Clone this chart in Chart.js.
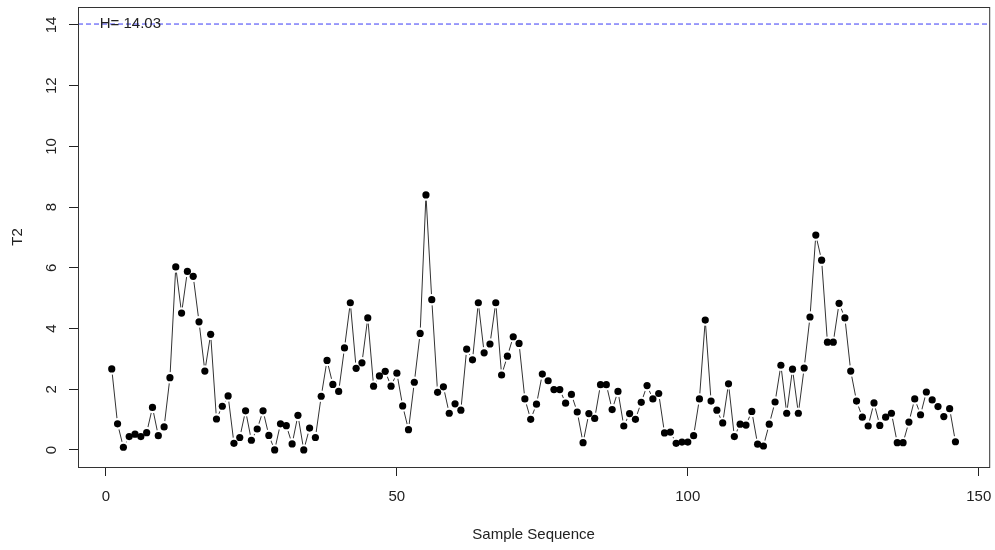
<!DOCTYPE html>
<html>
<head>
<meta charset="utf-8">
<script src="https://cdn.jsdelivr.net/npm/chart.js@4/dist/chart.umd.min.js"></script>
<style>
  body { margin: 0; background: #fff; }
  canvas { display: block; }
</style>
</head>
<body>
<canvas id="t2chart" width="995" height="550"></canvas>
<script>
// T2 statistic per sample
const t2 = [
  2.67, 0.86, 0.09, 0.44, 0.52, 0.44, 0.57, 1.40, 0.47, 0.76,
  2.38, 6.03, 4.51, 5.88, 5.72, 4.22, 2.60, 3.81, 1.02, 1.44,
  1.78, 0.22, 0.41, 1.29, 0.32, 0.69, 1.29, 0.48, 0.00, 0.86,
  0.80, 0.20, 1.14, 0.00, 0.72, 0.41, 1.77, 2.95, 2.16, 1.93,
  3.36, 4.85, 2.69, 2.87, 4.35, 2.10, 2.44, 2.59, 2.10, 2.53,
  1.45, 0.67, 2.23, 3.84, 8.40, 4.95, 1.90, 2.08, 1.21, 1.52,
  1.31, 3.32, 2.97, 4.85, 3.20, 3.49, 4.85, 2.47, 3.09, 3.73,
  3.51, 1.68, 1.01, 1.51, 2.50, 2.28, 1.99, 1.99, 1.54, 1.83,
  1.25, 0.24, 1.20, 1.04, 2.15, 2.15, 1.33, 1.93, 0.79, 1.20,
  1.01, 1.57, 2.12, 1.68, 1.86, 0.56, 0.59, 0.22, 0.26, 0.26,
  0.47, 1.68, 4.28, 1.61, 1.31, 0.89, 2.18, 0.44, 0.85, 0.82,
  1.27, 0.19, 0.13, 0.85, 1.58, 2.79, 1.21, 2.66, 1.21, 2.70,
  4.38, 7.08, 6.25, 3.55, 3.55, 4.83, 4.35, 2.60, 1.61, 1.08,
  0.79, 1.55, 0.81, 1.08, 1.21, 0.24, 0.24, 0.92, 1.68, 1.16,
  1.91, 1.65, 1.43, 1.10, 1.36, 0.27
];
const samples = t2.map((_, i) => i + 1);
const H = 14.03;
const xTicks = [0, 50, 100, 150];
const yTicks = [0, 2, 4, 6, 8, 10, 12, 14];

const xMin = -4.8, xMax = 151.8;
const yMin = -0.561, yMax = 14.591;

const pts = samples.map((s, i) => ({ x: s, y: t2[i] }));
const hLine = [{ x: xMin, y: H }, { x: xMax, y: H }];

const FONT = "'Liberation Sans', Arial, sans-serif";

// box, rotated y labels, H text
const extras = {
  id: 'extras',
  afterDraw(chart) {
    const ctx = chart.ctx;
    const a = chart.chartArea;
    const xs = chart.scales.x, ys = chart.scales.y;
    ctx.save();
    ctx.strokeStyle = '#333';
    ctx.lineWidth = 1;
    ctx.strokeRect(a.left + 0.5, a.top + 0.5, a.right - a.left, a.bottom - a.top);

    ctx.fillStyle = '#222';
    ctx.font = '15px ' + FONT;
    ctx.textAlign = 'center';
    ctx.textBaseline = 'middle';
    yTicks.forEach(v => {
      ctx.save();
      ctx.translate(52, ys.getPixelForValue(v));
      ctx.rotate(-Math.PI / 2);
      ctx.fillText(String(v), 0, 0);
      ctx.restore();
    });
    ctx.fillText('H= 14.03', xs.getPixelForValue(4.2), ys.getPixelForValue(H));
    ctx.restore();
  }
};

new Chart(document.getElementById('t2chart'), {
  type: 'scatter',
  data: {
    datasets: [
      {
        // T2 points on top
        data: pts,
        showLine: false,
        pointRadius: 3.6,
        pointBackgroundColor: '#000',
        pointBorderWidth: 0,
        order: 1
      },
      {
        // white halo so lines stop short of points (type "b")
        data: pts,
        showLine: false,
        pointRadius: 5.8,
        pointBackgroundColor: '#fff',
        pointBorderWidth: 0,
        order: 2
      },
      {
        data: pts,
        showLine: true,
        borderColor: '#333',
        borderWidth: 1,
        pointRadius: 0,
        order: 3
      },
      {
        data: hLine,
        showLine: true,
        borderColor: '#3b3bf5',
        borderWidth: 1,
        borderDash: [5, 3],
        pointRadius: 0,
        order: 4
      }
    ]
  },
  options: {
    responsive: false,
    animation: false,
    layout: { padding: { left: 0, right: 3, top: 7, bottom: 0 } },
    scales: {
      x: {
        type: 'linear',
        min: xMin,
        max: xMax,
        afterBuildTicks: s => { s.ticks = xTicks.map(v => ({ value: v })); },
        afterFit: s => { s.height = 83; s.paddingLeft = 0; s.paddingRight = 0; },
        grid: { drawOnChartArea: false, drawTicks: true, tickLength: 9, color: '#222' },
        border: { display: false },
        ticks: { color: '#222', padding: 12, maxRotation: 0, font: { size: 15, family: FONT } },
        title: { display: true, text: 'Sample Sequence', color: '#222', padding: { top: 0, bottom: 6 }, font: { size: 15, family: FONT } }
      },
      y: {
        min: yMin,
        max: yMax,
        afterBuildTicks: s => { s.ticks = yTicks.map(v => ({ value: v })); },
        afterFit: s => { s.width = 78; s.paddingTop = 0; s.paddingBottom = 0; },
        grid: { drawOnChartArea: false, drawTicks: true, tickLength: 9, color: '#222' },
        border: { display: false },
        ticks: { display: false },
        title: { display: true, text: 'T2', color: '#222', padding: { top: 9, bottom: 0 }, font: { size: 15, family: FONT } }
      }
    },
    plugins: {
      legend: { display: false },
      tooltip: { enabled: false }
    }
  },
  plugins: [extras]
});
</script>
</body>
</html>
